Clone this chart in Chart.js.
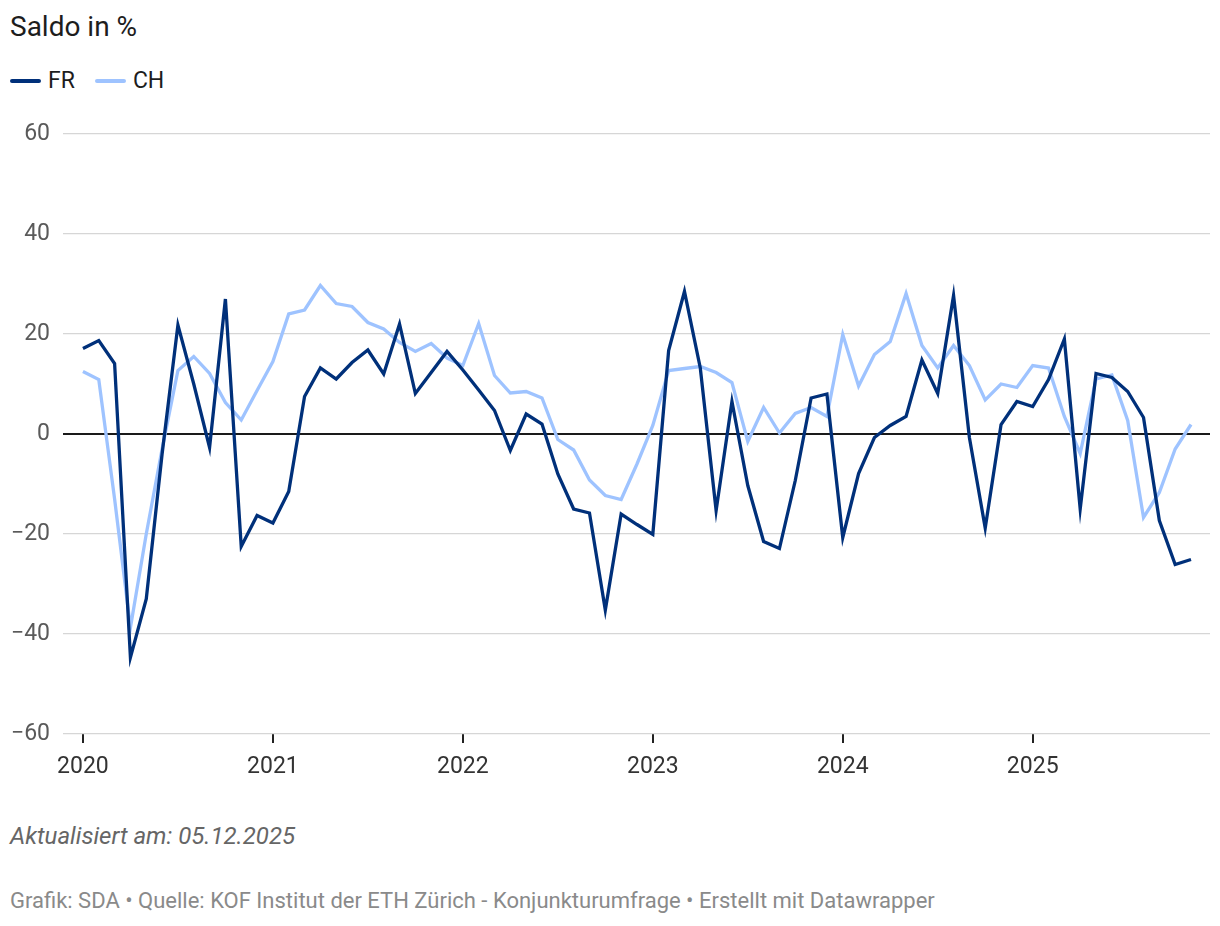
<!DOCTYPE html>
<html>
<head>
<meta charset="utf-8">
<script src="https://cdn.jsdelivr.net/npm/chart.js"></script>
<style>
  body { margin: 0; background: #fff; font-family: Roboto, sans-serif; }
  #page { position: relative; width: 1220px; height: 926px; }
  .title { position: absolute; left: 10px; top: 10px; font-size: 28px; color: #1d1d1d; }
  .legend { position: absolute; left: 10px; top: 67px; font-size: 23px; color: #1d1d1d; display: flex; align-items: center; }
  .legend .sw { width: 31px; height: 4px; border-radius: 2px; margin-right: 7px; }
  .legend .item { display: flex; align-items: center; margin-right: 20px; }
  #wrap { position: absolute; left: 0; top: 100px; width: 1220px; height: 700px; }
  .updated { position: absolute; left: 10px; top: 822px; font-size: 24px; font-style: italic; color: #666; }
  .source { position: absolute; left: 10px; top: 888px; font-size: 22px; color: #8a8a8a; }
</style>
</head>
<body>
<div id="page">
  <div class="title">Saldo in %</div>
  <div class="legend">
    <div class="item"><div class="sw" style="background:#00307a"></div>FR</div>
    <div class="item"><div class="sw" style="background:#9ec3ff"></div>CH</div>
  </div>
  <div id="wrap"><canvas id="chart"></canvas></div>
  <div class="updated">Aktualisiert am: 05.12.2025</div>
  <div class="source">Grafik: SDA • Quelle: KOF Institut der ETH Zürich - Konjunkturumfrage • Erstellt mit Datawrapper</div>
</div>
<script>
// monthly survey, Jan 2020 - Nov 2025
const months = [
  '2020-01','2020-02','2020-03','2020-04','2020-05','2020-06','2020-07','2020-08','2020-09','2020-10','2020-11','2020-12',
  '2021-01','2021-02','2021-03','2021-04','2021-05','2021-06','2021-07','2021-08','2021-09','2021-10','2021-11','2021-12',
  '2022-01','2022-02','2022-03','2022-04','2022-05','2022-06','2022-07','2022-08','2022-09','2022-10','2022-11','2022-12',
  '2023-01','2023-02','2023-03','2023-04','2023-05','2023-06','2023-07','2023-08','2023-09','2023-10','2023-11','2023-12',
  '2024-01','2024-02','2024-03','2024-04','2024-05','2024-06','2024-07','2024-08','2024-09','2024-10','2024-11','2024-12',
  '2025-01','2025-02','2025-03','2025-04','2025-05','2025-06','2025-07','2025-08','2025-09','2025-10','2025-11'
];

const fr = [
  17.1, 18.7, 14.1, -44.7, -33, -4, 21.8, 10, -2.7, 27, -22.5, -16.3,
  -17.8, -11.5, 7.5, 13.2, 11, 14.3, 16.8, 12, 22, 8.1, 12.3, 16.5,
  12.8, 8.8, 4.7, -3.3, 4, 2, -8, -15, -15.8, -35.2, -16, -18.1,
  -20.1, 16.7, 28.5, 13.2, -15.3, 6.5, -10.3, -21.5, -22.9, -9.3, 7.2, 8,
  -20.7, -7.9, -0.7, 1.7, 3.5, 14.8, 8.1, 27.7, -0.7, -18.8, 1.9, 6.5,
  5.5, 10.9, 19, -15, 12.1, 11.3, 8.5, 3.3, -17.3, -26.1, -25.1
];

const ch = [
  12.5, 10.9, -13, -38.7, -20, -3, 12.7, 15.5, 12.1, 6.3, 2.8, 8.7,
  14.5, 24, 24.8, 29.7, 26.1, 25.5, 22.3, 21, 18.3, 16.5, 18.1, 15.2,
  13.7, 22.1, 11.7, 8.2, 8.5, 7.2, -1.1, -3.2, -9.2, -12.3, -13.1, -6,
  1.7, 12.7, 13.1, 13.5, 12.3, 10.3, -1.5, 5.3, 0.2, 4.1, 5.3, 3.5,
  19.9, 9.6, 15.9, 18.5, 28.1, 17.7, 13.2, 17.7, 13.7, 6.8, 10, 9.3,
  13.7, 13.2, 3.5, -3.9, 11, 11.8, 2.7, -16.7, -11.7, -3, 1.9
];

const yearTicks = ['2020', '2021', '2022', '2023', '2024', '2025'];
const yTicks = [-60, -40, -20, 0, 20, 40, 60];

const toPoints = (arr) => arr.map((v, i) => ({ x: i, y: v }));

new Chart(document.getElementById('chart'), {
  type: 'line',
  data: {
    datasets: [
      { label: 'FR', data: toPoints(fr), borderColor: '#00307a', borderWidth: 3.3, pointRadius: 0, tension: 0 },
      { label: 'CH', data: toPoints(ch), borderColor: '#9ec3ff', borderWidth: 3.3, pointRadius: 0, tension: 0 }
    ]
  },
  options: {
    responsive: true,
    maintainAspectRatio: false,
    animation: false,
    layout: { padding: { top: 34, right: 10, left: 0, bottom: 0 } },
    plugins: { legend: { display: false }, tooltip: { enabled: false } },
    scales: {
      x: {
        type: 'linear',
        min: -1.26,
        max: 71.2,
        afterBuildTicks: (scale) => {
          scale.ticks = yearTicks.map(y => ({ value: months.indexOf(y + '-01') }));
        },
        afterFit: (scale) => { scale.height = 66; },
        border: { display: false },
        grid: { drawOnChartArea: false, drawTicks: true, tickLength: 9, color: '#222', lineWidth: 2 },
        ticks: {
          padding: 10,
          color: '#333',
          font: { family: 'Roboto', size: 23 },
          callback: (v) => months[v] ? months[v].slice(0, 4) : ''
        }
      },
      y: {
        min: -60,
        max: 60,
        afterBuildTicks: (scale) => { scale.ticks = yTicks.map(v => ({ value: v })); },
        afterFit: (scale) => { scale.width = 63; },
        border: { display: false },
        grid: {
          drawTicks: false,
          color: (c) => c.tick && c.tick.value === 0 ? '#1a1a1a' : '#d6d6d6',
          lineWidth: (c) => c.tick && c.tick.value === 0 ? 2 : 1.3
        },
        ticks: {
          padding: 13,
          color: '#5a5a5a',
          font: { family: 'Roboto', size: 23 },
          callback: (v) => v < 0 ? '\u2212' + Math.abs(v) : String(v)
        }
      }
    }
  }
});
</script>
</body>
</html>
